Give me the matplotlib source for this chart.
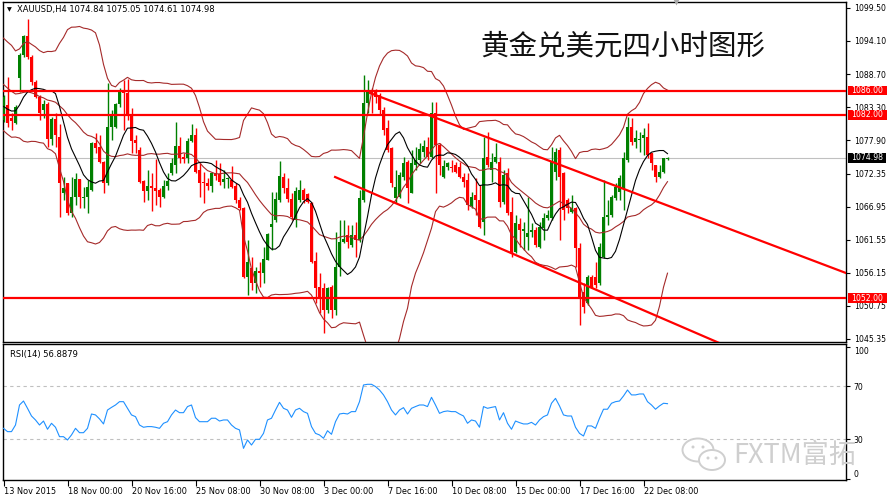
import numpy as np
import pandas as pd
import matplotlib
matplotlib.use("Agg")
import matplotlib.pyplot as plt
from matplotlib.patches import Rectangle, Ellipse
from matplotlib.transforms import blended_transform_factory

# ---------------- data (XAUUSD H4) ----------------
symbol = "XAUUSD"
timeframe = "H4"
title_cn = "黄金兑美元四小时图形"
watermark = "FXTM富拓"

opens = [1081.18, 1083.63, 1081.50, 1080.74, 1088.00, 1091.81, 1094.92, 1091.54, 1087.45, 1084.89,
         1082.81, 1083.80, 1078.01, 1081.30, 1078.45, 1069.18, 1070.82, 1065.91, 1068.63, 1071.47,
         1068.36, 1068.63, 1069.72, 1077.36, 1076.81, 1074.36, 1070.82, 1080.09, 1079.98, 1083.80,
         1085.98, 1085.65, 1081.83, 1077.91, 1076.20, 1071.20, 1069.61, 1070.43, 1069.99, 1069.72,
         1068.63, 1070.43, 1072.45, 1073.80, 1076.92, 1075.07, 1074.90, 1077.80, 1078.72, 1073.00,
         1071.00, 1070.82, 1070.43, 1072.56, 1072.34, 1071.09, 1071.47, 1071.36, 1070.43, 1068.09,
         1066.73, 1055.43, 1056.90, 1054.45, 1056.52, 1056.20, 1058.27, 1063.72, 1064.82, 1068.09,
         1071.91, 1070.00, 1068.20, 1064.82, 1068.09, 1069.72, 1069.07, 1067.54, 1058.16, 1053.90,
         1053.63, 1050.09, 1053.90, 1050.09, 1057.18, 1061.27, 1062.36, 1060.72, 1062.36, 1061.54,
         1068.09, 1083.90, 1086.08, 1085.81, 1085.26, 1082.81, 1079.80, 1076.54, 1068.36, 1068.63,
         1071.90, 1074.36, 1069.30, 1073.81, 1074.63, 1075.99, 1076.70, 1075.18, 1082.27, 1077.08,
         1071.80, 1073.43, 1073.54, 1073.81, 1073.54, 1071.90, 1071.36, 1067.10, 1068.90, 1068.09,
         1064.54, 1075.18, 1073.00, 1074.36, 1074.36, 1067.82, 1072.45, 1066.18, 1059.64, 1064.20,
         1063.00, 1062.09, 1062.90, 1063.18, 1060.46, 1063.45, 1065.09, 1065.09, 1072.73, 1076.27,
         1072.45, 1068.09, 1066.18, 1066.73, 1060.18, 1053.09, 1051.19, 1055.55, 1055.55, 1054.46,
         1058.82, 1065.36, 1065.64, 1068.36, 1069.45, 1070.00, 1074.64, 1080.09, 1077.63, 1077.91,
         1078.18, 1078.45, 1075.73, 1073.82, 1071.91, 1072.73, 1074.84]
highs = [1085.30, 1088.27, 1082.30, 1083.63, 1092.09, 1095.09, 1097.70, 1091.80, 1087.72, 1085.27,
         1084.45, 1084.18, 1081.72, 1082.38, 1080.60, 1071.91, 1070.90, 1071.91, 1072.45, 1071.60,
         1070.27, 1071.36, 1077.63, 1078.99, 1078.72, 1074.50, 1087.18, 1082.81, 1083.90, 1086.36,
         1087.72, 1087.90, 1083.09, 1078.70, 1076.81, 1071.36, 1073.00, 1072.45, 1074.80, 1069.99,
         1071.36, 1072.45, 1074.90, 1080.90, 1078.45, 1075.72, 1078.18, 1080.52, 1079.81, 1074.09,
         1072.72, 1071.64, 1072.72, 1074.63, 1074.09, 1073.00, 1071.90, 1073.70, 1070.82, 1068.63,
         1067.00, 1061.54, 1058.82, 1057.18, 1058.00, 1060.45, 1062.63, 1069.45, 1069.45, 1074.47,
         1072.45, 1071.64, 1069.18, 1070.27, 1071.36, 1070.00, 1069.18, 1067.81, 1059.63, 1056.09,
         1054.45, 1053.90, 1054.17, 1062.90, 1064.82, 1064.82, 1064.00, 1064.00, 1064.54, 1069.72,
         1088.54, 1087.70, 1086.36, 1086.20, 1085.54, 1083.36, 1081.17, 1076.81, 1073.00, 1072.72,
         1075.18, 1074.63, 1076.26, 1076.81, 1077.36, 1077.90, 1078.45, 1084.17, 1084.17, 1077.36,
         1074.63, 1074.36, 1074.63, 1074.36, 1074.36, 1072.45, 1072.45, 1069.45, 1071.63, 1070.54,
         1078.45, 1079.27, 1075.72, 1077.36, 1075.18, 1073.00, 1073.27, 1068.64, 1065.64, 1065.09,
         1064.55, 1068.64, 1064.27, 1063.73, 1064.55, 1065.91, 1066.45, 1076.82, 1076.54, 1076.82,
         1072.73, 1068.36, 1068.91, 1067.00, 1061.00, 1054.46, 1055.82, 1055.82, 1058.00, 1061.00,
         1071.36, 1068.09, 1068.91, 1070.82, 1072.18, 1076.00, 1081.72, 1081.45, 1079.54, 1079.27,
         1079.81, 1080.63, 1075.73, 1073.82, 1073.82, 1074.91, 1075.05]
lows = [1080.90, 1080.09, 1079.50, 1080.52, 1085.81, 1091.54, 1091.20, 1086.91, 1084.72, 1081.18,
        1081.45, 1076.81, 1077.09, 1076.81, 1065.36, 1068.09, 1065.63, 1065.36, 1067.27, 1066.73,
        1066.73, 1066.02, 1069.61, 1075.72, 1074.09, 1069.29, 1070.54, 1077.91, 1079.81, 1083.36,
        1079.54, 1081.18, 1075.72, 1075.72, 1070.82, 1067.81, 1068.09, 1066.34, 1067.27, 1067.00,
        1068.36, 1069.72, 1072.18, 1072.45, 1074.09, 1074.09, 1074.09, 1077.63, 1072.45, 1068.63,
        1067.65, 1069.72, 1069.45, 1071.36, 1070.54, 1070.00, 1070.00, 1069.99, 1067.54, 1066.45,
        1055.27, 1052.54, 1053.36, 1052.82, 1053.90, 1054.45, 1058.27, 1059.90, 1064.54, 1067.81,
        1069.29, 1067.81, 1064.82, 1063.72, 1067.81, 1067.65, 1067.54, 1057.84, 1051.18, 1049.54,
        1046.27, 1049.54, 1048.72, 1049.30, 1055.60, 1061.00, 1060.18, 1060.45, 1058.82, 1061.27,
        1067.81, 1082.27, 1082.27, 1083.90, 1081.99, 1078.72, 1075.99, 1070.27, 1067.54, 1068.36,
        1071.36, 1067.54, 1069.18, 1073.00, 1074.09, 1075.18, 1074.63, 1074.90, 1069.18, 1072.18,
        1071.63, 1073.00, 1072.70, 1072.45, 1071.63, 1070.27, 1066.45, 1066.72, 1065.63, 1063.45,
        1062.36, 1073.54, 1071.09, 1074.09, 1067.00, 1067.50, 1065.64, 1058.82, 1059.37, 1060.46,
        1059.90, 1059.91, 1062.00, 1060.46, 1060.18, 1061.55, 1064.82, 1064.82, 1071.36, 1061.55,
        1064.82, 1065.91, 1065.91, 1057.18, 1047.64, 1049.55, 1050.92, 1053.64, 1053.64, 1054.18,
        1058.55, 1064.00, 1065.36, 1068.09, 1068.09, 1066.45, 1074.36, 1077.09, 1076.54, 1076.00,
        1075.45, 1074.91, 1073.00, 1071.09, 1071.64, 1072.45, 1074.61]
closes = [1085.00, 1080.74, 1081.00, 1083.25, 1091.81, 1094.92, 1091.54, 1087.45, 1085.00, 1082.38,
          1083.80, 1078.07, 1081.29, 1078.70, 1070.82, 1069.99, 1065.91, 1068.63, 1071.47, 1068.63,
          1068.63, 1070.27, 1077.36, 1076.65, 1074.36, 1070.82, 1080.09, 1081.83, 1083.80, 1085.98,
          1085.65, 1081.83, 1077.80, 1077.36, 1071.09, 1069.61, 1070.43, 1069.99, 1069.61, 1068.63,
          1070.43, 1071.20, 1074.09, 1076.92, 1074.90, 1074.74, 1077.80, 1078.72, 1072.72, 1070.82,
          1070.82, 1070.43, 1072.45, 1072.01, 1071.09, 1071.47, 1071.64, 1070.27, 1068.09, 1066.73,
          1055.43, 1058.00, 1054.45, 1056.52, 1056.20, 1058.38, 1062.52, 1064.17, 1068.20, 1072.01,
          1070.00, 1068.20, 1065.36, 1069.61, 1069.72, 1068.09, 1067.81, 1058.00, 1053.63, 1052.27,
          1050.09, 1053.63, 1050.09, 1057.18, 1061.27, 1061.64, 1061.27, 1062.36, 1061.54, 1068.36,
          1083.90, 1086.08, 1085.54, 1084.99, 1082.81, 1079.54, 1076.26, 1070.81, 1070.27, 1072.18,
          1074.09, 1069.99, 1074.09, 1074.63, 1076.40, 1076.90, 1075.18, 1082.27, 1077.08, 1073.81,
          1073.65, 1074.09, 1073.27, 1072.72, 1071.90, 1071.09, 1067.27, 1068.63, 1068.09, 1063.72,
          1074.90, 1073.81, 1074.36, 1075.18, 1067.82, 1072.20, 1065.91, 1059.64, 1064.27, 1063.18,
          1063.40, 1062.64, 1063.18, 1060.73, 1063.73, 1065.09, 1065.64, 1074.36, 1076.00, 1071.91,
          1066.45, 1066.73, 1066.73, 1060.18, 1052.28, 1050.64, 1055.55, 1053.91, 1054.18, 1060.46,
          1065.36, 1065.64, 1068.64, 1070.27, 1071.64, 1074.91, 1080.09, 1077.63, 1078.18, 1078.10,
          1078.72, 1075.45, 1074.09, 1071.91, 1072.73, 1074.91, 1074.98]

# closes before the first visible bar (only feed the indicator start values)
warmup_closes = [1092.8, 1091.5, 1092.0, 1090.2, 1091.4, 1089.6, 1090.8, 1089.5, 1090.1, 1088.1,
                 1085.2, 1084.1, 1083.0, 1082.4, 1082.0, 1083.1, 1083.6, 1082.6, 1083.0]

rsi_values = [38.3, 35.8, 35.8, 40.8, 55.9, 58.9, 53.4, 47.6, 44.6, 40.8,
              43.8, 37.6, 42.1, 39.1, 32.0, 32.0, 29.5, 33.3, 38.3, 35.0,
              35.0, 38.3, 49.1, 48.4, 45.4, 41.6, 52.1, 54.1, 55.9, 58.4,
              58.4, 53.4, 48.4, 47.1, 40.8, 39.1, 39.6, 39.6, 39.1, 38.3,
              42.1, 43.3, 48.4, 52.1, 50.1, 50.1, 54.7, 55.9, 46.4, 43.3,
              43.3, 43.3, 45.9, 45.9, 43.8, 44.6, 44.6, 40.8, 38.3, 37.1,
              23.2, 29.5, 25.7, 30.0, 30.0, 34.5, 44.6, 45.9, 52.1, 57.9,
              53.4, 52.1, 46.6, 52.1, 53.4, 50.9, 49.6, 39.6, 34.5, 33.3,
              30.8, 36.5, 33.8, 43.3, 49.1, 49.6, 49.1, 50.9, 50.9, 58.4,
              71.0, 71.5, 71.5, 69.8, 67.2, 63.5, 58.4, 52.1, 48.4, 52.1,
              53.9, 49.1, 53.4, 54.7, 55.9, 55.9, 54.7, 61.7, 55.9, 49.6,
              50.9, 51.4, 50.9, 50.9, 49.1, 47.6, 42.1, 44.6, 43.8, 39.1,
              54.7, 53.4, 54.1, 54.7, 44.6, 50.1, 42.1, 37.6, 43.8, 42.6,
              41.6, 41.6, 42.8, 40.8, 44.6, 47.1, 48.4, 57.2, 60.9, 55.2,
              48.4, 47.6, 47.6, 39.1, 34.5, 32.5, 40.1, 40.1, 38.3, 45.9,
              52.7, 52.7, 57.2, 58.4, 58.9, 62.7, 67.2, 63.5, 63.5, 64.2,
              64.2, 58.4, 55.9, 52.7, 55.2, 57.2, 56.8879]

date_labels = ["13 Nov 2015", "18 Nov 00:00", "20 Nov 16:00", "25 Nov 08:00", "30 Nov 08:00",
               "3 Dec 00:00", "7 Dec 16:00", "10 Dec 08:00", "15 Dec 00:00", "17 Dec 16:00",
               "22 Dec 08:00"]
date_label_bars = [0, 16, 32, 48, 64, 80, 96, 112, 128, 144, 160]

price_ticks = [1099.50, 1094.10, 1088.70, 1083.30, 1077.90, 1072.35, 1066.95,
               1061.55, 1056.15, 1050.75, 1045.35]
support_resistance = [1086.00, 1082.00, 1052.00]
# channel lines: (bar, price) start and end points
channel_upper = [(91.6, 1085.60), (210.6, 1056.15)]
channel_lower = [(82.9, 1071.85), (182.0, 1043.83)]
rsi_levels = [70, 30]
rsi_ticks = [100, 70, 30, 0]

# ---------------- figure ----------------
W, H = 890, 499
fig = plt.figure(figsize=(W / 100, H / 100), dpi=100)
fig.patch.set_facecolor("white")
plt.rcParams["font.family"] = ["DejaVu Sans"]


def fx(px):
    return px / W


def fy(py):
    return 1 - py / H


L, R = 3, 846
ax = fig.add_axes([fx(L), fy(341.5), fx(R) - fx(L), fy(2) - fy(341.5)])
rx = fig.add_axes([fx(L), fy(480), fx(R) - fx(L), fy(344) - fy(480)])

n = len(closes)
x = np.arange(n)
xlim = (-0.125, (R - 3.5) / 4)
for a in (ax, rx):
    a.set_xlim(*xlim)
    a.set_facecolor("white")
    for s in a.spines.values():
        s.set_color("black")
        s.set_linewidth(1.0)

ax.set_ylim(1044.94, 1100.48)
rx.set_ylim(-0.68, 101.9)

o = np.array(opens); h = np.array(highs); l = np.array(lows); c = np.array(closes)
up = c >= o
col = np.where(up, "#008000", "#FF0000")

# current price line
ax.axhline(c[-1], color="#C0C0C0", lw=0.8, zorder=1)

# candles
ax.vlines(x, l, h, colors=col, lw=1.0, zorder=3)
body_lo = np.minimum(o, c)
body_h = np.maximum(np.abs(c - o), 0.17)
ax.bar(x, body_h, bottom=body_lo, width=0.74, color=col, linewidth=0, zorder=3)

# indicators (Bollinger 20,2 and SMA 10)
allc = pd.Series(list(warmup_closes) + list(closes))
k = len(warmup_closes)
mid = allc.rolling(20).mean().values[k:]
sd = allc.rolling(20).std(ddof=0).values[k:]
ma10 = allc.rolling(10).mean().values[k:]
bb_col = "#A52A2A"
ax.plot(x, mid + 2 * sd, color=bb_col, lw=0.8, zorder=4)
ax.plot(x, mid, color=bb_col, lw=0.8, zorder=4)
ax.plot(x, mid - 2 * sd, color=bb_col, lw=0.8, zorder=4)
ax.plot(x, ma10, color="black", lw=0.8, zorder=4)

# horizontal levels and channel lines
for lev in support_resistance:
    ax.axhline(lev, color="#FF0000", lw=1.6, zorder=5)
for line in (channel_upper, channel_lower):
    (x0, y0), (x1, y1) = line
    ax.plot([x0, x1], [y0, y1], color="#FF0000", lw=1.6, zorder=5)

# right price axis
ax.yaxis.tick_right()
ax.set_yticks(price_ticks)
ax.set_yticklabels([f"{v:.2f}" for v in price_ticks])
ax.tick_params(axis="y", direction="out", length=3, width=0.8, pad=2.5,
               labelsize=5.6, colors="black")
ax.set_xticks([])

# highlighted price boxes
tr = ax.get_yaxis_transform()
axw = R - L
box_h = 9.8 / 6.113
for lev in support_resistance:
    ax.add_patch(Rectangle((1 + 1.7 / axw, lev - box_h / 2), 39 / axw, box_h, transform=tr,
                           facecolor="#FF0000", edgecolor="none", clip_on=False, zorder=6))
    ax.text(1 + 5.5 / axw, lev, f"{lev:.2f}", transform=tr, color="white", fontsize=5.6,
            va="center", ha="left", clip_on=False, zorder=7)
ax.add_patch(Rectangle((1 + 1.7 / axw, c[-1] - box_h / 2), 38 / axw, box_h, transform=tr,
                       facecolor="black", edgecolor="none", clip_on=False, zorder=6))
ax.text(1 + 5.5 / axw, c[-1], f"{c[-1]:.2f}", transform=tr, color="white", fontsize=5.6,
        va="center", ha="left", clip_on=False, zorder=7)

# chart shift marker
ax.plot([n + 1.2], [1.0], marker="v", ms=4.5, color="#A8A8A8",
        transform=blended_transform_factory(ax.transData, ax.transAxes),
        clip_on=False, zorder=8, mec="none")

# ---------------- RSI panel ----------------
for lev in rsi_levels:
    rx.axhline(lev, color="#C0C0C0", lw=0.8, linestyle=(0, (3, 3)), zorder=1)
rx.plot(x, rsi_values, color="#1E90FF", lw=0.8, zorder=3)
rx.yaxis.tick_right()
rx.set_yticks(rsi_ticks)
rx.set_yticklabels([str(v) for v in rsi_ticks])
rx.tick_params(axis="y", direction="out", length=3, width=0.8, pad=2.5, labelsize=5.6)
for lab, v in zip(rx.get_yticklabels(), rsi_ticks):
    if v == 100:
        lab.set_verticalalignment("top")
    elif v == 0:
        lab.set_verticalalignment("bottom")
rx.set_xticks(date_label_bars)
rx.set_xticklabels(date_labels)
rx.tick_params(axis="x", direction="out", length=4, width=0.8, pad=1.0, labelsize=5.9)
for lab in rx.get_xticklabels():
    lab.set_horizontalalignment("left")
rx.text(7 / axw, 1 - 10 / 136, f"RSI(14) {rsi_values[-1]:.4f}", transform=rx.transAxes,
        fontsize=6, va="center", ha="left")

# ---------------- texts ----------------
fig.text(fx(17), fy(9.5), f"{symbol},{timeframe} {o[-1]:.2f} {h[-1]:.2f} {l[-1]:.2f} {c[-1]:.2f}",
         fontsize=6, va="center", ha="left")
fig.text(fx(9.5), fy(10), "▼", fontsize=4.5, va="center", ha="center")
fig.text(fx(480), fy(46), title_cn, fontsize=20.5, family=["Noto Sans CJK SC", "DejaVu Sans"],
         va="center", ha="left", color="#111111")

# watermark
fig.text(fx(733), fy(455), watermark, fontsize=19.5, family=["Noto Sans CJK SC", "DejaVu Sans"],
         fontweight="light", color="#CFCFCF", va="center", ha="left", zorder=10)
for (cx, cy, w, hh) in [(698, 450, 31, 23), (712, 460, 26, 20)]:
    fig.add_artist(Ellipse((fx(cx), fy(cy)), w / W, hh / H, transform=fig.transFigure,
                           facecolor="white", edgecolor="#CFCFCF", lw=1.4, zorder=10))
for (ex, ey) in [(693, 447), (703, 447), (708, 458), (716, 458)]:
    fig.add_artist(Ellipse((fx(ex), fy(ey)), 3 / W, 3 / H, transform=fig.transFigure,
                           facecolor="#CFCFCF", edgecolor="none", zorder=11))

fig.savefig("out.png", dpi=100, facecolor="white")
